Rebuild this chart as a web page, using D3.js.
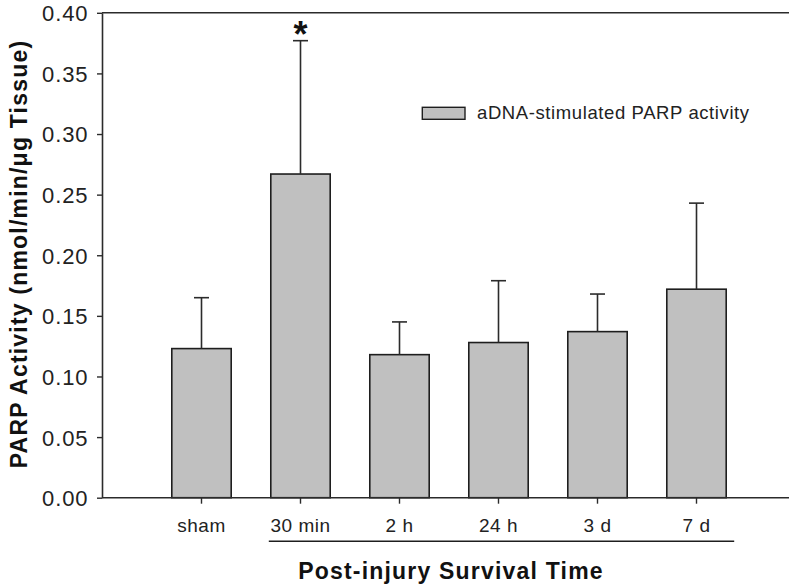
<!DOCTYPE html>
<html>
<head>
<meta charset="utf-8">
<script src="https://cdn.jsdelivr.net/npm/d3@7"></script>
<style>
  html, body { margin: 0; padding: 0; background: #fff; }
  svg { display: block; }
  text { font-family: "Liberation Sans", Arial, Helvetica, sans-serif; }
</style>
</head>
<body>
<svg id="chart" width="789" height="587"></svg>
<script>
// Survival-time groups and mean PARP activity with upper SEM
const categories = ["sham", "30 min", "2 h", "24 h", "3 d", "7 d"];
const meanValues = [0.123, 0.267, 0.118, 0.128, 0.137, 0.172];
const upperValues = [0.165, 0.377, 0.145, 0.179, 0.168, 0.243];
const significant = [false, true, false, false, false, false];
const yTicks = [0.00, 0.05, 0.10, 0.15, 0.20, 0.25, 0.30, 0.35, 0.40];
const injuryGroups = ["30 min", "7 d"];

const svg = d3.select("#chart");
const plotLeft = 102, plotRight = 789, plotTop = 12.8, plotBottom = 497.7;
const ink = "#2b2b2b";

const y = d3.scaleLinear().domain([0, 0.40]).range([plotBottom, plotTop]);
const x = d3.scaleBand().domain(categories).range([152, 746])
  .paddingInner(0.4).paddingOuter(0.2);

// Y axis
const yAxis = svg.append("g").attr("transform", `translate(${plotLeft},0)`)
  .call(d3.axisLeft(y).tickValues(yTicks).tickFormat(d3.format(".2f"))
    .tickSize(5).tickSizeOuter(0).tickPadding(8.5));
yAxis.select(".domain").attr("stroke", ink).attr("stroke-width", 1.6);
yAxis.selectAll(".tick line").attr("stroke", ink).attr("stroke-width", 1.4);
yAxis.selectAll(".tick text").attr("fill", "#222").attr("font-size", 22)
  .style("letter-spacing", "0.9px").attr("dy", "0.36em");

// Top frame line
svg.append("line").attr("x1", plotLeft).attr("x2", plotRight).attr("y1", y(0.40)).attr("y2", y(0.40))
  .attr("stroke", ink).attr("stroke-width", 1.6);

// Bars
svg.append("g").selectAll("rect").data(categories).join("rect")
  .attr("x", d => x(d)).attr("width", x.bandwidth())
  .attr("y", (d, i) => y(meanValues[i]))
  .attr("height", (d, i) => y(0) - y(meanValues[i]))
  .attr("fill", "#c0c0c0").attr("stroke", "#1e1e1e").attr("stroke-width", 1.6);

// Upper error bars, with a significance star above the cap
const eb = svg.append("g").attr("stroke", ink).attr("stroke-width", 1.6);
categories.forEach((c, i) => {
  const cx = x(c) + x.bandwidth() / 2;
  eb.append("line").attr("x1", cx).attr("x2", cx)
    .attr("y1", y(meanValues[i])).attr("y2", y(upperValues[i]));
  eb.append("line").attr("x1", cx - 7.5).attr("x2", cx + 7.5)
    .attr("y1", y(upperValues[i])).attr("y2", y(upperValues[i]));
  if (significant[i]) {
    svg.append("text").attr("x", cx).attr("y", y(upperValues[i]) + 6)
      .attr("text-anchor", "middle").attr("font-size", 36).attr("font-weight", "bold")
      .attr("fill", "#111").text("*");
  }
});

// X axis
const xAxis = svg.append("g").attr("transform", `translate(0,${plotBottom})`)
  .call(d3.axisBottom(x).tickSize(6).tickSizeOuter(0).tickPadding(14.5));
xAxis.select(".domain").remove();
xAxis.selectAll(".tick line").attr("stroke", ink).attr("stroke-width", 1.4);
xAxis.selectAll(".tick text").attr("fill", "#222").attr("font-size", 19)
  .style("letter-spacing", "0.5px");
svg.append("line").attr("x1", plotLeft).attr("x2", plotRight).attr("y1", plotBottom).attr("y2", plotBottom)
  .attr("stroke", ink).attr("stroke-width", 1.6);

// Bracket under the post-injury groups
svg.append("line")
  .attr("x1", x(injuryGroups[0]) - 2).attr("x2", x(injuryGroups[1]) + x.bandwidth() + 8)
  .attr("y1", 541.3).attr("y2", 541.3).attr("stroke", "#1e1e1e").attr("stroke-width", 1.5);

// Axis titles
svg.append("text").attr("x", 451).attr("y", 579).attr("text-anchor", "middle")
  .attr("font-size", 23).attr("font-weight", "bold").attr("fill", "#111")
  .style("letter-spacing", "1.2px").text("Post-injury Survival Time");
svg.append("text").attr("transform", "translate(27,254) rotate(-90)")
  .attr("text-anchor", "middle").attr("font-size", 23).attr("font-weight", "bold")
  .attr("fill", "#111").style("letter-spacing", "1.2px")
  .text("PARP Activity (nmol/min/\u03bcg Tissue)");

// Legend
const lg = svg.append("g");
lg.append("rect").attr("x", 422.3).attr("y", 107.3).attr("width", 42.7).attr("height", 12)
  .attr("fill", "#c0c0c0").attr("stroke", "#1e1e1e").attr("stroke-width", 1.4);
lg.append("text").attr("x", 477).attr("y", 119).attr("font-size", 18.5).attr("fill", "#222")
  .style("letter-spacing", "0.6px").text("aDNA-stimulated PARP activity");
</script>
</body>
</html>
